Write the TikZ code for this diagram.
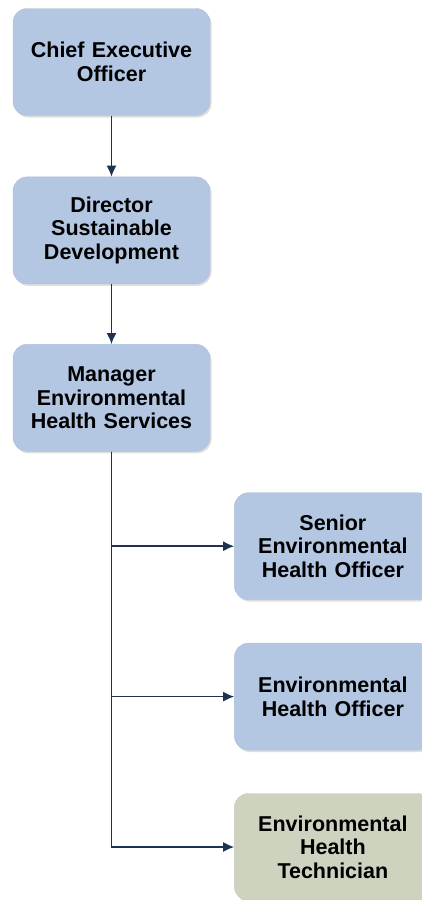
\documentclass[tikz,border=0pt]{standalone}
\usepackage{fontspec}
\setmainfont{Liberation Sans}
\usepackage{xcolor}
\usetikzlibrary{positioning,shadows,arrows.meta}

\definecolor{boxblue}{HTML}{B3C7E3}
\definecolor{boxtan}{HTML}{CDD3BF}
\definecolor{linknavy}{HTML}{1E3350}

\begin{document}
\begin{tikzpicture}[x=1pt, y=1pt,
  link/.style={draw=linknavy, line width=1.6pt, -{Latex[length=11pt, width=10pt]}},
  elbow/.style={link, to path={|- (\tikztotarget)}}]
\tikzstyle{post}=[rectangle, rounded corners=14pt, fill=boxblue, draw=boxblue!90!gray,
  minimum width=197pt, minimum height=107pt, align=center, text width=185pt,
  font=\fontsize{21.5}{23.5}\selectfont\bfseries,
  drop shadow={shadow xshift=1.5pt, shadow yshift=-2pt, opacity=0.25}]
\useasboundingbox (0,0) rectangle (421,-900);

\node [post] (ceo) at (111.5,-62) {Chief Executive\\Officer};
\node [post] (dir) [below=61pt of ceo] {Director\\Sustainable\\Development};
\node [post] (mgr) [below=60pt of dir] {Manager\\Environmental\\Health Services};
\node [post] (seho) [below right=41pt and 24pt of mgr] {Senior\\Environmental\\Health Officer};
\node [post] (eho) [below=43pt of seho] {Environmental\\Health Officer};
\node [post, fill=boxtan, draw=boxtan!90!gray] (eht) [below=43pt of eho] {Environmental\\Health\\Technician};

\path
(ceo) edge [link] (dir)
(dir) edge [link] (mgr)
(mgr.south) edge [elbow] (seho.west)
(mgr.south) edge [elbow] (eho.west)
(mgr.south) edge [elbow] (eht.west);

\end{tikzpicture}
\end{document}
